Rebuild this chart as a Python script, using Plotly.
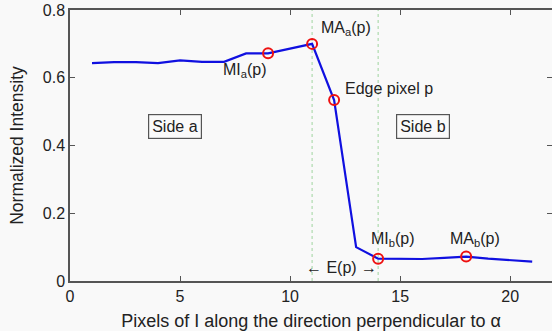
import plotly.graph_objects as go

x_pixels = list(range(1, 22))
intensity = [0.643, 0.646, 0.646, 0.643, 0.651, 0.647, 0.647, 0.672, 0.672, 0.686, 0.700,
             0.534, 0.100, 0.066, 0.065, 0.065, 0.068, 0.072, 0.066, 0.061, 0.057]
marked_x = [9, 11, 12, 14, 18]
marked_y = [intensity[x_pixels.index(v)] for v in marked_x]
vlines_x = [11, 14]
x_ticks = [0, 5, 10, 15, 20]
y_ticks = [0, 0.2, 0.4, 0.6, 0.8]
y_tick_text = ["0", "0.2", "0.4", "0.6", "0.8"]

FONT = "Liberation Sans, Arial, sans-serif"
fig = go.Figure()
for vx in vlines_x:
    fig.add_trace(go.Scatter(x=[vx, vx], y=[0, 0.8], mode="lines",
                             line=dict(color="#9fd49f", width=1, dash="dot"),
                             showlegend=False, hoverinfo="skip"))
fig.add_trace(go.Scatter(x=x_pixels, y=intensity, mode="lines",
                         line=dict(color="#1010e0", width=2.2), showlegend=False))
fig.add_trace(go.Scatter(x=marked_x, y=marked_y, mode="markers",
                         marker=dict(symbol="circle-open", size=10, color="#ee1111",
                                     line=dict(width=2, color="#ee1111")),
                         showlegend=False))

ann = [
    dict(x=11.3, y=0.71, text="MA<sub>a</sub>(p)", xanchor="left", yanchor="bottom"),
    dict(x=9.05, y=0.655, text="MI<sub>a</sub>(p)", xanchor="right", yanchor="top"),
    dict(x=12.4, y=0.568, text="Edge pixel p", xanchor="left", yanchor="middle"),
    dict(x=14.68, y=0.09, text="MI<sub>b</sub>(p)", xanchor="center", yanchor="bottom"),
    dict(x=18.4, y=0.09, text="MA<sub>b</sub>(p)", xanchor="center", yanchor="bottom"),
    dict(x=12.35, y=0.04, text="\u2190 E(p) \u2192", xanchor="center", yanchor="middle"),
    dict(x=4.75, y=0.455, text="Side a", xanchor="center", yanchor="middle",
         bordercolor="#555", borderwidth=1.2, borderpad=3, bgcolor="#fafafa"),
    dict(x=16.05, y=0.455, text="Side b", xanchor="center", yanchor="middle",
         bordercolor="#555", borderwidth=1.2, borderpad=3, bgcolor="#fafafa"),
]
for a in ann:
    fig.add_annotation(showarrow=False, font=dict(family=FONT, size=16, color="#222"), **a)

fig.update_layout(
    width=552, height=331,
    margin=dict(l=70, r=0, t=10, b=50),
    paper_bgcolor="#f9f9f9", plot_bgcolor="#f9f9f9",
    font=dict(family=FONT, size=16, color="#222"),
    xaxis=dict(range=[0, 21.9], tickvals=x_ticks, ticks="inside", ticklen=5,
               showgrid=False, zeroline=False, showline=True, linecolor="#555",
               linewidth=1.5, mirror="ticks", tickcolor="#555", automargin=False,
               title=dict(text="Pixels of I along the direction perpendicular to \u03b1",
                          font=dict(size=18))),
    yaxis=dict(range=[0, 0.8], tickvals=y_ticks, ticktext=y_tick_text, ticks="inside",
               ticklen=5, showgrid=False, zeroline=False, showline=True, linecolor="#555",
               linewidth=1.5, mirror="ticks", tickcolor="#555", automargin=False,
               title=dict(text="Normalized Intensity", font=dict(size=17.5))),
)
fig.write_html("out.html", config={"displayModeBar": False},
               post_script="document.body.style.margin='0';document.body.style.overflow='hidden';")
